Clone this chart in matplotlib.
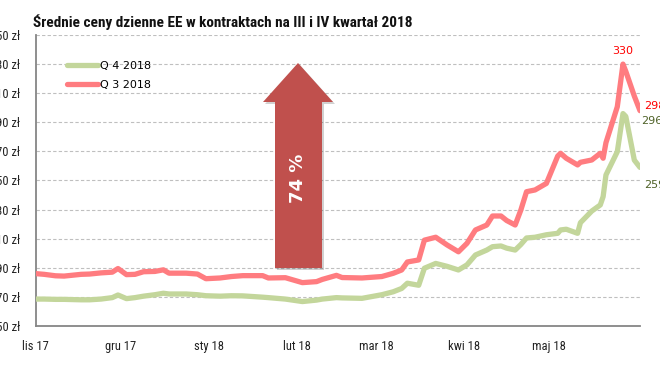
import datetime as dt
import matplotlib
matplotlib.use("Agg")
import matplotlib.pyplot as plt
from matplotlib.patches import Polygon
from matplotlib import font_manager

# --- data (zł/MWh) ---
dates = ["2017-11-01", "2017-11-04", "2017-11-08", "2017-11-11", "2017-11-17",
         "2017-11-20", "2017-11-24", "2017-11-28", "2017-11-30", "2017-12-03",
         "2017-12-06", "2017-12-09", "2017-12-13", "2017-12-16", "2017-12-18",
         "2017-12-24", "2017-12-28", "2017-12-31", "2018-01-05", "2018-01-09",
         "2018-01-13", "2018-01-20", "2018-01-22", "2018-01-28", "2018-02-03",
         "2018-02-08", "2018-02-10", "2018-02-15", "2018-02-17", "2018-02-24",
         "2018-03-03", "2018-03-07", "2018-03-10", "2018-03-12", "2018-03-16",
         "2018-03-18", "2018-03-22", "2018-03-26", "2018-03-30", "2018-04-02",
         "2018-04-05", "2018-04-09", "2018-04-11", "2018-04-14", "2018-04-16",
         "2018-04-19", "2018-04-21", "2018-04-23", "2018-04-26", "2018-04-30",
         "2018-05-04", "2018-05-05", "2018-05-07", "2018-05-11", "2018-05-12",
         "2018-05-16", "2018-05-19", "2018-05-20", "2018-05-21", "2018-05-25",
         "2018-05-27", "2018-05-28", "2018-05-31", "2018-06-02"]
q3_2018 = [186, 185.5, 184.5, 184.3, 185.5, 185.7, 186.5, 187, 189.5, 185.3,
           185.5, 187.3, 187.5, 188.6, 186.3, 186.3, 185.7, 182.5, 183, 184,
           184.6, 184.6, 183, 183.2, 179.8, 180.5, 182, 184.8, 183.3, 183,
           184, 186.2, 188.5, 194, 195.4, 209, 211, 205.7, 201, 206.8,
           216, 219.4, 225.6, 225.6, 222.5, 219.4, 229.7, 242.3, 243.5, 248,
           266.8, 268.7, 265.3, 260.7, 262.5, 264.1, 268.7, 265.3, 276, 300.7,
           330, 325, 308, 298]
q4_2018 = [168.5, 168.5, 168.3, 168.3, 168, 168, 168.5, 169.5, 171.3, 168.8,
           169.5, 170.5, 171.5, 172.5, 172, 172, 171.5, 170.8, 170.5, 170.8,
           170.7, 169.8, 169.5, 168.5, 166.8, 167.8, 168.5, 169.5, 169.3, 169,
           171.5, 173.5, 175.8, 179.4, 178, 189.7, 193, 191, 188.5, 192,
           198.8, 202.2, 204.5, 205, 203.5, 202.2, 206, 210.5, 211, 212.7,
           213.7, 216, 216.5, 213.7, 221, 229, 233.2, 238.9, 253.8, 269.8,
           296, 294, 264, 259]

month_ticks = ["2017-11-01", "2017-12-01", "2018-01-01", "2018-02-01",
               "2018-03-01", "2018-04-01", "2018-05-01"]
month_labels = ["lis 17", "gru 17", "sty 18", "lut 18", "mar 18", "kwi 18", "maj 18"]
y_ticks = list(range(150, 351, 20))
growth_pct = 74

RED = "#FF7C80"
GREEN = "#C3D69B"


def _d(s):
    return dt.datetime.strptime(s, "%Y-%m-%d")


x = [_d(s) for s in dates]

narrow = "DejaVu Sans"
for cand in ["Liberation Sans Narrow", "Roboto Condensed", "DejaVu Sans Condensed"]:
    try:
        font_manager.findfont(cand, fallback_to_default=False)
        narrow = cand
        break
    except Exception:
        pass

fig = plt.figure(figsize=(6.6, 3.76), dpi=100)
ax = fig.add_axes([0.0541, 0.133, 0.9156, 0.7739])

ax.plot(x, q4_2018, color=GREEN, lw=3.8, solid_capstyle="round",
        solid_joinstyle="round", label="Q 4 2018", zorder=3)
ax.plot(x, q3_2018, color=RED, lw=3.8, solid_capstyle="round",
        solid_joinstyle="round", label="Q 3 2018", zorder=3)

ax.set_xlim(_d("2017-11-01"), _d("2018-06-02"))
ax.set_ylim(150, 350)
ax.set_xticks([_d(s) for s in month_ticks])
ax.set_xticklabels(month_labels)
ax.set_yticks(y_ticks)
ax.set_yticklabels([f"{v} zł" for v in y_ticks])
ax.tick_params(length=0, labelsize=9, colors="#222222")
ax.tick_params(axis="y", pad=11)
ax.tick_params(axis="x", pad=10)
for lab in ax.get_xticklabels() + ax.get_yticklabels():
    lab.set_family(narrow)

ax.grid(axis="y", color="#BFBFBF", lw=0.8, ls=(0, (3, 2)))
ax.set_axisbelow(True)
for s in ("top", "right"):
    ax.spines[s].set_visible(False)
for s in ("left", "bottom"):
    ax.spines[s].set_color("#868686")
    ax.spines[s].set_linewidth(1.3)

# legend: Q4 first, then Q3
leg = ax.legend(loc="upper left", bbox_to_anchor=(0.045, 0.925), frameon=False,
                fontsize=8, handlelength=2.8, handletextpad=0.15,
                labelspacing=0.75, borderaxespad=0)

# value labels
red_peak = max(q3_2018)
ip = q3_2018.index(red_peak)
ax.annotate(f"{red_peak:.0f}", xy=(x[ip], red_peak), xytext=(0, 6),
            textcoords="offset points", ha="center", va="bottom",
            color="#FF0000", fontsize=8)
ax.annotate(f"{q3_2018[-1]:.0f}", xy=(x[-1], q3_2018[-1]), xytext=(3, 3),
            textcoords="offset points", ha="left", va="center",
            color="#FF0000", fontsize=8, annotation_clip=False)
green_peak = max(q4_2018)
ax.annotate(f"{green_peak:.0f}", xy=(x[-1], green_peak), xytext=(1, -5),
            textcoords="offset points", ha="left", va="center",
            color="#4F6228", fontsize=8, annotation_clip=False)
ax.annotate(f"{q4_2018[-1]:.0f}", xy=(x[-1], q4_2018[-1]), xytext=(3, -13),
            textcoords="offset points", ha="left", va="center",
            color="#4F6228", fontsize=8, annotation_clip=False)

# big up arrow with the percentage change
W, H = 660.0, 376.0
arrow_px = [(275, 268), (275, 102), (263, 102), (298, 63), (333, 102),
            (322, 102), (322, 268)]
shadow = Polygon([((px + 2) / W, 1 - (py + 2) / H) for px, py in arrow_px],
                 closed=True, transform=fig.transFigure, facecolor="#000000",
                 alpha=0.18, edgecolor="none", zorder=4)
arrow = Polygon([(px / W, 1 - py / H) for px, py in arrow_px], closed=True,
                transform=fig.transFigure, facecolor="#C0504D",
                edgecolor="none", zorder=5)
fig.add_artist(shadow)
fig.add_artist(arrow)
fig.text(298 / W, 1 - 178 / H, f"{growth_pct} %", rotation=90, ha="center",
         va="center", color="white", fontsize=13, fontweight="bold", zorder=6)

fig.text(33 / W, 1 - 22 / H,
         "Średnie ceny dzienne EE w kontraktach na III i IV kwartał 2018",
         ha="left", va="center", fontsize=11, fontweight="bold",
         family=narrow, color="#111111")

fig.savefig("out.png", dpi=100)
